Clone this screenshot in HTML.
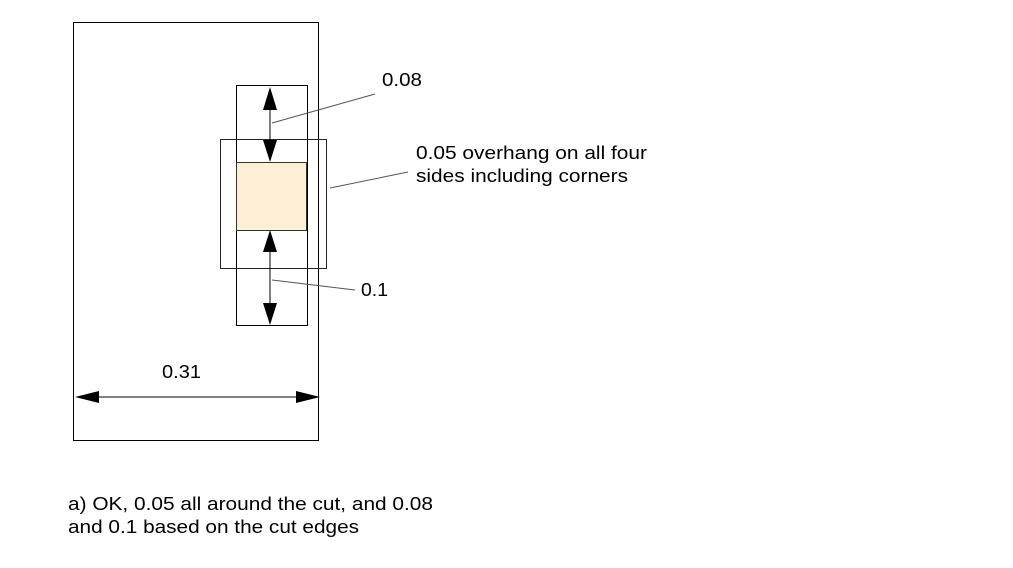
<!DOCTYPE html>
<html><head><style>body{margin:0;background:#fff}svg text{font-family:"Liberation Sans",sans-serif;font-size:18px;fill:#000}</style></head><body>
<svg width="1013" height="563" xmlns="http://www.w3.org/2000/svg">
<rect x="73.5" y="22.5" width="245" height="418" fill="none" stroke="#000" stroke-width="1"/>
<rect x="236.5" y="85.5" width="71" height="240" fill="none" stroke="#000"/>
<rect x="220.5" y="139.5" width="106" height="129" fill="none" stroke="#222"/>
<rect x="236.5" y="162.5" width="70" height="68" fill="#fcefd6" stroke="#333"/>
<line x1="270" y1="100" x2="270" y2="150" stroke="#000"/>
<polygon points="270,87 263,110 277,110" fill="#000"/>
<polygon points="270,162 263,140 277,140" fill="#000"/>
<line x1="270" y1="245" x2="270" y2="312" stroke="#000"/>
<polygon points="270,230 263,252 277,252" fill="#000"/>
<polygon points="270,325 263,303 277,303" fill="#000"/>
<line x1="95" y1="397" x2="300" y2="397" stroke="#000"/>
<polygon points="75,397 99,391 99,403" fill="#000"/>
<polygon points="320,397 296,391 296,403" fill="#000"/>
<line x1="272" y1="123" x2="375" y2="94" stroke="#555"/>
<line x1="330" y1="188" x2="408" y2="172" stroke="#555"/>
<line x1="272" y1="280" x2="355" y2="290" stroke="#555"/>
<text x="382" y="86" textLength="40" lengthAdjust="spacingAndGlyphs">0.08</text>
<text x="416" y="159" textLength="231" lengthAdjust="spacingAndGlyphs">0.05 overhang on all four</text>
<text x="416" y="182" textLength="212" lengthAdjust="spacingAndGlyphs">sides including corners</text>
<text x="361" y="296" textLength="27" lengthAdjust="spacingAndGlyphs">0.1</text>
<text x="162" y="378" textLength="39" lengthAdjust="spacingAndGlyphs">0.31</text>
<text x="68" y="510" textLength="365" lengthAdjust="spacingAndGlyphs">a) OK, 0.05 all around the cut, and 0.08</text>
<text x="68" y="533" textLength="291" lengthAdjust="spacingAndGlyphs">and 0.1 based on the cut edges</text>
</svg></body></html>
